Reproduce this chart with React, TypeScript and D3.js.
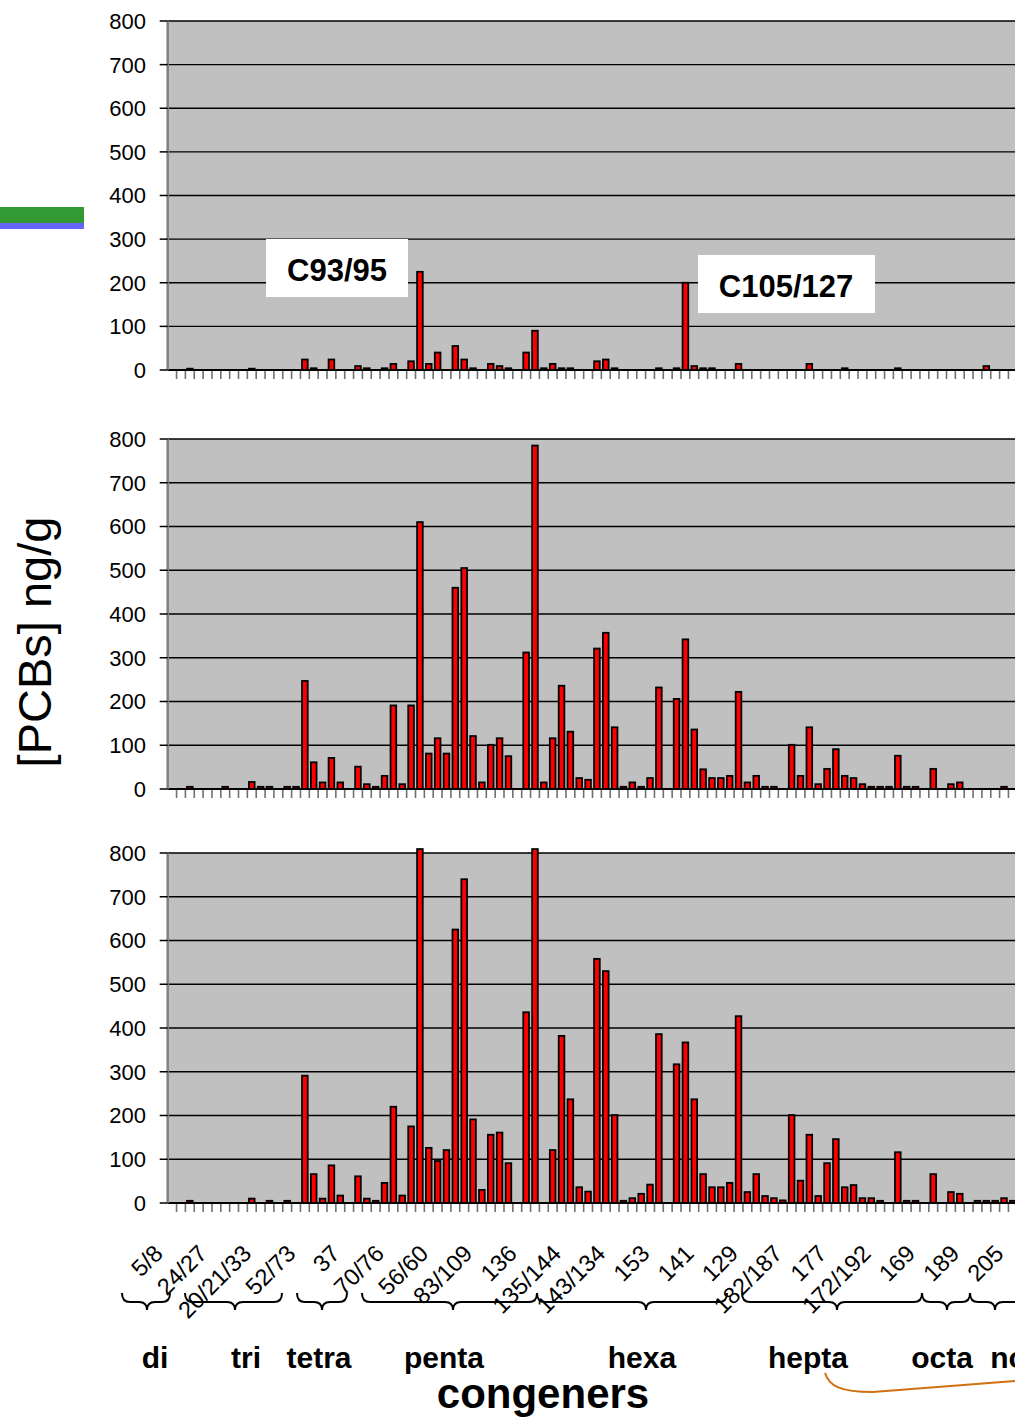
import React from 'react'
import * as d3 from 'd3'

// congener slots along the x axis (one tick per slot)
const N_CATEGORIES = 98
// every fifth slot carries a label
const tickLabels = ['5/8', '24/27', '20/21/33', '52/73', '37', '70/76', '56/60', '83/109', '136', '135/144',
  '143/134', '153', '141', '129', '182/187', '177', '172/192', '169', '189', '205']

// [PCBs] ng/g, slot by slot (0 = no bar)
const panelTop = [
  0, 0, 3, 0, 0, 0, 0, 0, 0, 3,
  0, 0, 0, 0, 0, 24, 4, 0, 24, 0,
  0, 9, 4, 0, 4, 14, 0, 20, 225, 14,
  40, 0, 55, 24, 4, 0, 14, 9, 4, 0,
  40, 90, 4, 14, 4, 4, 0, 0, 20, 24,
  4, 0, 0, 0, 0, 4, 0, 4, 200, 9,
  4, 4, 0, 0, 14, 0, 0, 0, 0, 0,
  0, 0, 14, 0, 0, 0, 4, 0, 0, 0,
  0, 0, 4, 0, 0, 0, 0, 0, 0, 0,
  0, 0, 9, 0, 0, 0, 0, 0,
]
const panelMiddle = [
  0, 0, 5, 0, 0, 0, 5, 0, 0, 16,
  5, 5, 0, 5, 5, 247, 61, 15, 71, 15,
  0, 51, 11, 5, 30, 191, 11, 191, 610, 81,
  116, 81, 460, 505, 121, 15, 101, 116, 75, 0,
  312, 785, 15, 116, 236, 131, 25, 21, 321, 357,
  141, 5, 15, 5, 25, 232, 0, 206, 342, 136,
  45, 25, 25, 30, 222, 15, 30, 5, 5, 0,
  101, 30, 141, 11, 46, 91, 30, 25, 11, 5,
  5, 5, 76, 5, 5, 0, 46, 0, 11, 15,
  0, 0, 0, 0, 5, 0, 0, 0,
]
const panelBottom = [
  0, 0, 5, 0, 0, 0, 0, 0, 0, 10,
  0, 5, 0, 5, 0, 291, 66, 10, 86, 17,
  0, 61, 10, 5, 46, 220, 17, 175, 900, 126,
  96, 121, 625, 740, 191, 30, 156, 161, 91, 0,
  436, 900, 0, 121, 382, 237, 36, 26, 558, 530,
  201, 5, 11, 21, 42, 386, 0, 317, 367, 237,
  66, 36, 36, 46, 427, 25, 66, 16, 11, 6,
  201, 51, 156, 16, 91, 146, 36, 41, 11, 11,
  5, 0, 116, 5, 5, 0, 66, 0, 25, 21,
  0, 5, 5, 5, 11, 5, 0, 0,
]
const yTicks = [0, 100, 200, 300, 400, 500, 600, 700, 800]

const homologs = ['di', 'tri', 'tetra', 'penta', 'hexa', 'hepta', 'octa', 'nona']
const notes = ['C93/95', 'C105/127']

const FONT = 'Liberation Sans, Arial, sans-serif'
const W = 1015
const H = 1418
const LEFT = 167.7
const STEP = 8.85

const x = d3.scaleBand<number>()
  .domain(d3.range(N_CATEGORIES))
  .range([LEFT, LEFT + N_CATEGORIES * STEP])
  .paddingInner(0.36)
  .paddingOuter(0.18)
const xEdge = d3.scaleLinear().domain([0, N_CATEGORIES]).range([LEFT, LEFT + N_CATEGORIES * STEP])

function Panel({ values, top, bottom }: { values: number[], top: number, bottom: number }) {
  const y = d3.scaleLinear().domain([0, 800]).range([bottom, top])
  const right = xEdge(N_CATEGORIES)
  return (
    <g>
      <rect x={LEFT} y={top} width={right - LEFT} height={bottom - top} fill="#c0c0c0" />
      {yTicks.filter(t => t > 0).map(t => (
        <line key={t} x1={LEFT} x2={right} y1={y(t)} y2={y(t)} stroke="#000" strokeWidth={1.4} />
      ))}
      {values.map((v, i) => v > 0 && (
        <rect key={i} x={x(i)} width={x.bandwidth()}
          y={y(Math.min(v, 809))} height={y(0) - y(Math.min(v, 809))}
          fill="#ff0000" stroke="#000" strokeWidth={1.8} />
      ))}
      {d3.range(1, N_CATEGORIES + 1).map(k => (
        <line key={k} x1={xEdge(k)} x2={xEdge(k)} y1={y(0)} y2={y(0) + 9} stroke="#707070" strokeWidth={1.6} />
      ))}
      <line x1={LEFT} x2={right} y1={y(0)} y2={y(0)} stroke="#000" strokeWidth={2} />
      <line x1={LEFT} x2={LEFT} y1={top} y2={bottom} stroke="#808080" strokeWidth={2.5} />
      {yTicks.map(t => (
        <g key={t}>
          <line x1={LEFT - 8} x2={LEFT} y1={y(t)} y2={y(t)} stroke="#000" strokeWidth={1.5} />
          <text x={146} y={y(t)} dy="0.36em" textAnchor="end" fontSize={22} fontFamily={FONT}>{t}</text>
        </g>
      ))}
    </g>
  )
}

// brace shapes under the axis: [start, tip, end]
const braces = [[122, 147, 170], [185, 235, 282], [297, 322, 347], [362, 453, 537],
  [537, 646, 727], [742, 837, 922], [922, 947, 970], [970, 995, 1040]]
const homologX = [155, 246, 319, 444, 642, 808, 942, 1026]

function bracePath([a, tip, b]: number[]) {
  const yTop = 1293, yLine = 1302, yTip = 1310, r = 8
  return `M${a},${yTop} Q${a},${yLine} ${a + r},${yLine} L${tip - r},${yLine} Q${tip},${yLine} ${tip},${yTip} ` +
    `Q${tip},${yLine} ${tip + r},${yLine} L${b - r},${yLine} Q${b},${yLine} ${b},${yTop}`
}

export default function App() {
  return (
    <svg width={W} height={H} style={{ position: 'absolute', left: 0, top: 0, background: '#fff' }}>
      <Panel values={panelTop} top={21} bottom={370} />
      <Panel values={panelMiddle} top={439} bottom={789} />
      <Panel values={panelBottom} top={853} bottom={1203} />

      {tickLabels.map((lab, i) => {
        const px = (x(i * 5) as number) + x.bandwidth() / 2 - 8
        const py = 1255
        return (
          <text key={lab} x={px} y={py} textAnchor="end" fontSize={23.5} fontFamily={FONT}
            transform={`rotate(-45, ${px}, ${py})`}>{lab}</text>
        )
      })}

      {braces.map((b, i) => (
        <path key={i} d={bracePath(b)} fill="none" stroke="#000" strokeWidth={2} />
      ))}
      {homologs.map((h, i) => (
        <text key={h} x={homologX[i]} y={1368} textAnchor="middle" fontSize={30} fontWeight="bold" fontFamily={FONT}>{h}</text>
      ))}
      <text x={543} y={1408} textAnchor="middle" fontSize={42} fontWeight="bold" fontFamily={FONT}>congeners</text>
      <text x={51} y={642} textAnchor="middle" fontSize={47} fontFamily={FONT}
        transform="rotate(-90, 51, 642)">[PCBs] ng/g</text>

      <rect x={266} y={239} width={142} height={58} fill="#fff" />
      <text x={337} y={281} textAnchor="middle" fontSize={31} fontWeight="bold" fontFamily={FONT}>{notes[0]}</text>
      <rect x={698} y={255} width={177} height={58} fill="#fff" />
      <text x={786} y={297} textAnchor="middle" fontSize={31} fontWeight="bold" fontFamily={FONT}>{notes[1]}</text>

      <rect x={0} y={207} width={84} height={16} fill="#339933" />
      <rect x={0} y={223} width={84} height={6} fill="#6666ff" />

      <path d="M825,1373 C829,1386 840,1392 873,1392 L1015,1381" fill="none" stroke="#d07010" strokeWidth={2} />
    </svg>
  )
}
